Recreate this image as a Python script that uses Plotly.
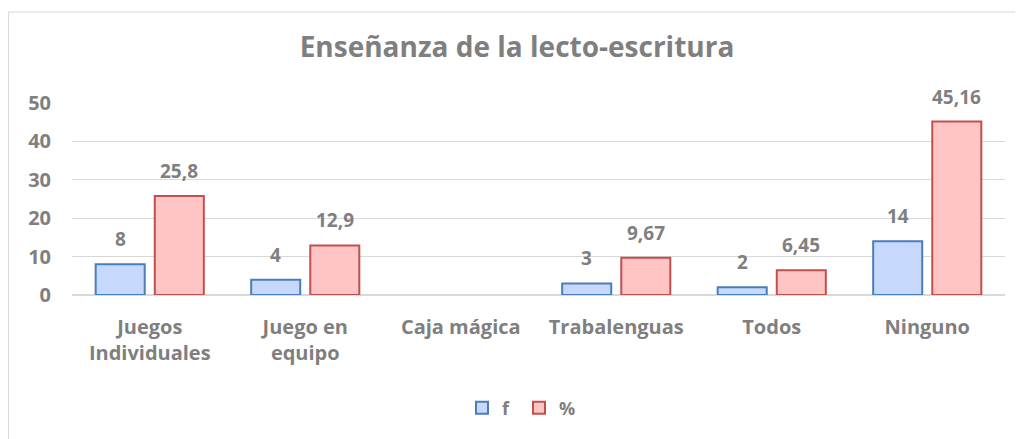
import plotly.graph_objects as go

categories = ["Juegos<br>Individuales", "Juego en<br>equipo", "Caja mágica",
              "Trabalenguas", "Todos", "Ninguno"]
f_values = [8, 4, None, 3, 2, 14]
pct_values = [25.8, 12.9, None, 9.67, 6.45, 45.16]
series_names = ["f", "%"]
title_text = "Enseñanza de la lecto-escritura"
y_ticks = [0, 10, 20, 30, 40, 50]

W, H = 1023, 439
OFF = 8  # page body margin
ML, MT = 72 - OFF, 103 - OFF
MR = W - (1005 - OFF)
MB = H - (295 - OFF)
PW = W - ML - MR
PH = H - MT - MB
BARGAP = 0.24
BARGROUPGAP = 0.17

GRAY = "#7f7f7f"
FONT = "Open Sans"

fig = go.Figure()
fig.add_trace(go.Bar(
    name=series_names[0], x=categories, y=f_values,
    marker=dict(color="#c6d8fc", line=dict(color="#4a7ebb", width=2)),
))
fig.add_trace(go.Bar(
    name=series_names[1], x=categories, y=pct_values,
    marker=dict(color="#ffc4c4", line=dict(color="#c0504d", width=2)),
))

# value labels above bars
slot = PW / len(categories) * (1 - BARGAP) / 2
for si, vals in enumerate([f_values, pct_values]):
    shift = (si - 0.5) * slot
    for c, v in zip(categories, vals):
        if v is None:
            continue
        txt = (f"{v:g}").replace(".", ",")
        fig.add_annotation(
            x=c, y=v, text=txt, showarrow=False,
            xshift=shift, yshift=25, yanchor="middle",
            font=dict(family=FONT, size=19, color=GRAY, weight="bold"),
        )

# outer chart border (partially visible)
fig.add_shape(
    type="rect", xref="paper", yref="paper",
    x0=(0.5 - ML) / PW, x1=(W + 20 - ML) / PW,
    y0=-(MB + 20) / PH, y1=(PH + MT - (12 - OFF)) / PH,
    line=dict(color="#d9d9d9", width=1), fillcolor="rgba(0,0,0,0)", layer="below",
)

fig.update_layout(
    width=W, height=H,
    margin=dict(l=ML, r=MR, t=MT, b=MB, autoexpand=False),
    paper_bgcolor="white", plot_bgcolor="white",
    barmode="group", bargap=BARGAP, bargroupgap=BARGROUPGAP,
    separators=",.",
    title=dict(text=title_text, x=(517 - OFF) / W, xref="container", xanchor="center",
               y=1 - (47 - OFF) / H, yref="container", yanchor="middle",
               font=dict(family=FONT, size=28, color=GRAY, weight="bold")),
    font=dict(family=FONT, color=GRAY),
    showlegend=True,
    legend=dict(orientation="h", x=(519 - 72) / PW, xanchor="center",
                y=-(408 - 295) / PH, yanchor="middle",
                font=dict(family=FONT, size=18, color=GRAY, weight="bold"),
                itemwidth=30, entrywidth=12, entrywidthmode="pixels",
                tracegroupgap=0),
    xaxis=dict(showgrid=False, showline=True, linecolor="#d9d9d9", linewidth=1,
               ticks="outside", ticklen=14, tickcolor="rgba(0,0,0,0)",
               tickfont=dict(family=FONT, size=20, color=GRAY, weight="bold")),
    yaxis=dict(range=[0, 50], tickvals=y_ticks, showgrid=True, gridcolor="#d9d9d9",
               gridwidth=1, zeroline=True, zerolinecolor="#d9d9d9", showline=False,
               ticks="outside", ticklen=16, tickcolor="rgba(0,0,0,0)",
               tickfont=dict(family=FONT, size=20, color=GRAY, weight="bold")),
)

fig.write_html("out.html")
